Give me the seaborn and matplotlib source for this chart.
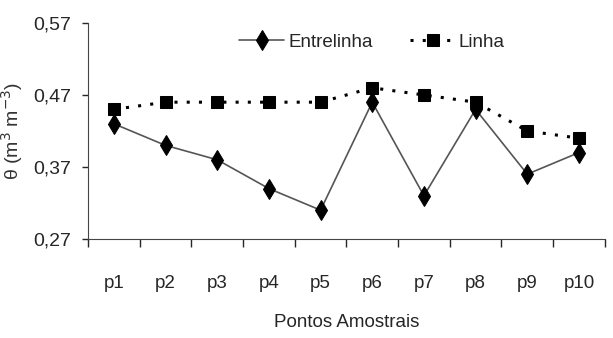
import matplotlib
matplotlib.use("Agg")
import matplotlib.pyplot as plt
import seaborn as sns
import pandas as pd

pontos = ["p1", "p2", "p3", "p4", "p5", "p6", "p7", "p8", "p9", "p10"]
entrelinha = [0.43, 0.40, 0.38, 0.34, 0.31, 0.46, 0.33, 0.45, 0.36, 0.39]
linha = [0.45, 0.46, 0.46, 0.46, 0.46, 0.48, 0.47, 0.46, 0.42, 0.41]
yticks = [0.27, 0.37, 0.47, 0.57]

sns.set_style("ticks")
plt.rcParams["font.family"] = ["Liberation Sans", "DejaVu Sans"]

df = pd.DataFrame({"ponto": pontos, "Entrelinha": entrelinha, "Linha": linha})

fig = plt.figure(figsize=(6.13, 3.38), dpi=100)
ax = fig.add_axes([0.1436, 0.293, 0.843, 0.639])

sns.lineplot(data=df, x="ponto", y="Entrelinha", ax=ax, sort=False, color="#555555",
             linewidth=1.2, marker="d", markersize=10, markerfacecolor="black",
             markeredgecolor="black", label="Entrelinha")
sns.lineplot(data=df, x="ponto", y="Linha", ax=ax, sort=False, color="black",
             linewidth=2.2, linestyle=(0, (1, 3)), marker="s", markersize=8.5,
             markerfacecolor="black", markeredgecolor="black", label="Linha")

ax.set_xlim(-0.5, 9.5)
ax.set_ylim(0.27, 0.57)
ax.set_yticks(yticks)
ax.set_yticklabels([f"{v:.2f}".replace(".", ",") for v in yticks], fontsize=14)
ax.set_xticks(range(len(pontos)))
ax.set_xticklabels(pontos, fontsize=13.5)
ax.set_xticks([i - 0.5 for i in range(len(pontos) + 1)], minor=True)
ax.tick_params(axis="x", which="major", length=0, pad=26)
ax.tick_params(axis="x", which="minor", length=6, width=1, direction="out")
ax.tick_params(axis="y", length=4, width=1, direction="out", pad=8)
for s in ["top", "right"]:
    ax.spines[s].set_visible(False)
for s in ["left", "bottom"]:
    ax.spines[s].set_color("#444444")

ax.set_xlabel("Pontos Amostrais", fontsize=13.5, labelpad=16)
ax.set_ylabel("θ (m$^3$ m$^{-3}$)", fontsize=14, labelpad=6, color="#333333")

ax.legend(loc="upper center", bbox_to_anchor=(0.55, 1.03), ncol=2, frameon=False,
          fontsize=13.5, handlelength=2.4, handletextpad=0.2, columnspacing=2.0)

fig.savefig("out.png", dpi=100)
